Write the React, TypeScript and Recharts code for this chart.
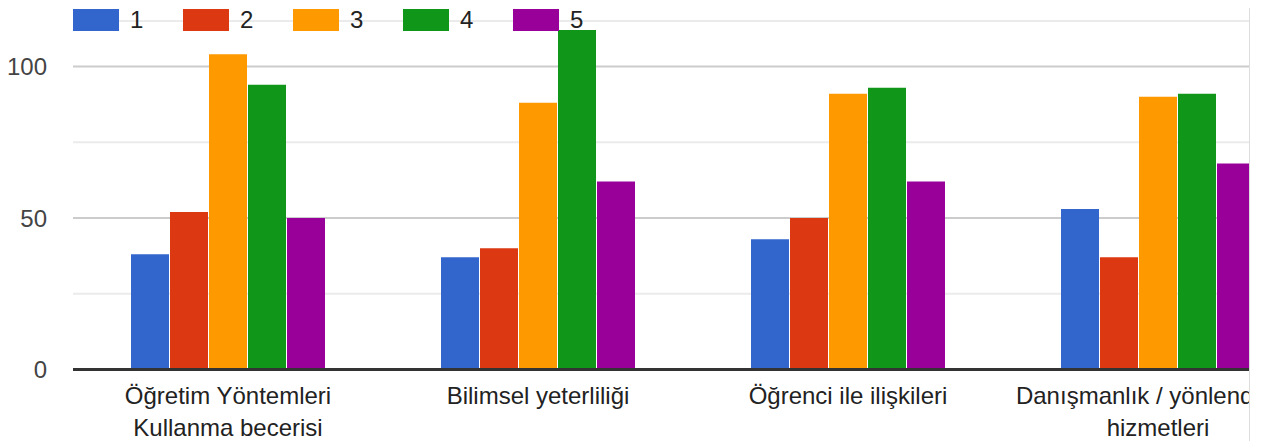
import React from 'react';
import { BarChart, Bar, XAxis, YAxis, CartesianGrid, Legend, ReferenceLine } from 'recharts';

const categories = [
  'Öğretim Yöntemleri\nKullanma becerisi',
  'Bilimsel yeterliliği',
  'Öğrenci ile ilişkileri',
  'Danışmanlık / yönlendirme\nhizmetleri',
];
const series1 = [38, 37, 43, 53];
const series2 = [52, 40, 50, 37];
const series3 = [104, 88, 91, 90];
const series4 = [94, 112, 93, 91];
const series5 = [50, 62, 62, 68];
const seriesKeys = ['s1', 's2', 's3', 's4', 's5'];
const seriesNames = ['1', '2', '3', '4', '5'];
const seriesColors = ['#3366cc', '#dc3912', '#ff9900', '#109618', '#990099'];
const yGridTicks = [0, 25, 50, 75, 100];
const yLabelTicks = [0, 50, 100];

const allSeries = [series1, series2, series3, series4, series5];
const data = categories.map((name, i) => {
  const row: Record<string, any> = { name };
  seriesKeys.forEach((k, j) => {
    row[k] = allSeries[j][i];
  });
  return row;
});

const FONT = "Arial, 'Liberation Sans', sans-serif";

const XTick = (props: any) => {
  const { x, y, payload } = props;
  const lines = String(payload.value).split('\n');
  return (
    <text x={x} y={y} textAnchor="middle" fill="#222" fontSize={24} fontFamily={FONT}>
      {lines.map((l, i) => (
        <tspan key={i} x={x} dy={i === 0 ? 34.5 : 32}>
          {l}
        </tspan>
      ))}
    </text>
  );
};

const YTick = (props: any) => {
  const { x, y, payload } = props;
  if (!yLabelTicks.includes(payload.value)) return <g />;
  return (
    <text x={x} y={y} dy="0.36em" textAnchor="end" fill="#444" fontSize={24} fontFamily={FONT}>
      {payload.value}
    </text>
  );
};

const renderLegend = (props: any) => {
  const { payload } = props;
  return (
    <div style={{ display: 'flex', fontFamily: FONT, fontSize: 24, color: '#222', height: 32, alignItems: 'center' }}>
      {(payload || []).map((p: any) => (
        <div key={p.value} style={{ display: 'flex', alignItems: 'center', width: 110 }}>
          <div style={{ width: 46, height: 22, background: p.color, marginRight: 11 }} />
          <span style={{ lineHeight: 'normal' }}>{p.value}</span>
        </div>
      ))}
    </div>
  );
};

const gridLine = (props: any) => {
  const major = props.index % 2 === 0;
  return (
    <line
      key={`g-${props.index}`}
      x1={props.x1}
      y1={props.y1}
      x2={props.x2}
      y2={props.y2}
      stroke={major ? '#cccccc' : '#ebebeb'}
      strokeWidth={2}
    />
  );
};

export default function App() {
  return (
    <div
      style={{
        width: 1241,
        height: 433,
        marginTop: -8,
        paddingTop: 8,
        overflow: 'hidden',
        borderRight: '1px solid #dddddd',
        position: 'relative',
        background: '#fff',
      }}
    >
      <BarChart
        width={1305}
        height={433}
        data={data}
        margin={{ top: 13, right: 0, bottom: 0, left: 0 }}
        barCategoryGap={58}
        barGap={1}
      >
        <CartesianGrid vertical={false} horizontal={gridLine} />
        <XAxis
          dataKey="name"
          interval={0}
          tickLine={false}
          axisLine={false}
          tickSize={0}
          tickMargin={0}
          height={71.5}
          tick={<XTick />}
        />
        <YAxis
          width={65}
          domain={[0, 115]}
          ticks={yGridTicks}
          tickLine={false}
          axisLine={false}
          tickSize={0}
          tickMargin={26}
          tick={<YTick />}
        />
        <Legend
          layout="horizontal"
          verticalAlign="middle"
          align="center"
          content={renderLegend}
          wrapperStyle={{ top: -4, left: 65, width: 'auto', height: 32, margin: 0, padding: 0 }}
        />
        {seriesKeys.map((k, j) => (
          <Bar key={k} dataKey={k} name={seriesNames[j]} fill={seriesColors[j]} isAnimationActive={false} />
        ))}
        <ReferenceLine y={0} stroke="#333333" strokeWidth={3} />
      </BarChart>
    </div>
  );
}
